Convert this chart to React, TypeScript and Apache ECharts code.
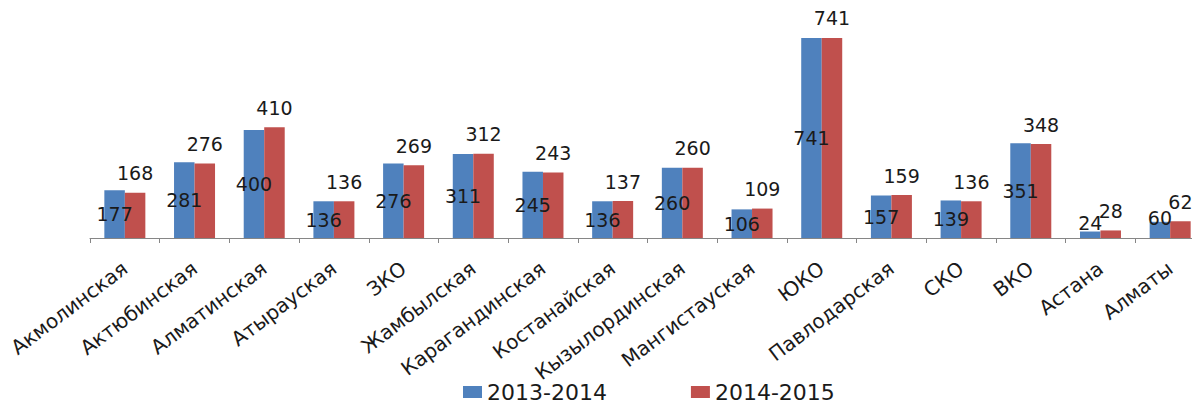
import React, { useEffect, useRef } from "react";
import * as echarts from "echarts";

const categories = [
  "Акмолинская",
  "Актюбинская",
  "Алматинская",
  "Атырауская",
  "ЗКО",
  "Жамбылская",
  "Карагандинская",
  "Костанайская",
  "Кызылординская",
  "Мангистауская",
  "ЮКО",
  "Павлодарская",
  "СКО",
  "ВКО",
  "Астана",
  "Алматы",
];
const values2013 = [177, 281, 400, 136, 276, 311, 245, 136, 260, 106, 741, 157, 139, 351, 24, 60];
const values2014 = [168, 276, 410, 136, 269, 312, 243, 137, 260, 109, 741, 159, 136, 348, 28, 62];
const seriesNames = ["2013-2014", "2014-2015"];

const FONT = "DejaVu Sans";

export default function App() {
  const ref = useRef<HTMLDivElement>(null);
  useEffect(() => {
    if (!ref.current) return;
    const chart = echarts.init(ref.current, undefined, { renderer: "svg" });
    chart.setOption({
      animation: false,
      backgroundColor: "#ffffff",
      textStyle: { fontFamily: FONT },
      legend: {
        data: seriesNames,
        left: 463,
        top: 381,
        padding: 0,
        itemWidth: 19,
        itemHeight: 12,
        itemGap: 84,
        icon: "rect",
        textStyle: { fontFamily: FONT, fontSize: 22, color: "#1a1a1a" },
      },
      grid: { left: 90, top: 22, bottom: 170, right: 10, containLabel: false },
      xAxis: {
        type: "category",
        data: categories,
        axisLine: { lineStyle: { color: "#868686", width: 1 } },
        axisTick: { show: true, length: 5, lineStyle: { color: "#868686" } },
        axisLabel: {
          interval: 0,
          rotate: 37,
          margin: 28,
          fontFamily: FONT,
          fontSize: 20,
          color: "#1a1a1a",
        },
      },
      yAxis: {
        type: "value",
        min: 0,
        max: 800,
        show: false,
        splitLine: { show: false },
      },
      series: [
        {
          name: seriesNames[0],
          type: "bar",
          barWidth: 20.5,
          barGap: "0%",
          itemStyle: { color: "#4F81BD" },
          data: values2013.map((v) =>
            v < 70 ? { value: v, label: { offset: [0, -12] } } : v
          ),
          label: {
            show: true,
            position: "inside",
            fontFamily: FONT,
            fontSize: 19,
            color: "#1a1a1a",
          },
        },
        {
          name: seriesNames[1],
          type: "bar",
          barWidth: 20.5,
          barGap: "0%",
          itemStyle: { color: "#C0504D" },
          data: values2014,
          label: {
            show: true,
            position: "top",
            distance: 10,
            fontFamily: FONT,
            fontSize: 19,
            color: "#1a1a1a",
          },
        },
      ],
    });
    return () => chart.dispose();
  }, []);
  return (
    <div
      style={{
        position: "fixed",
        left: 0,
        top: 0,
        width: 1192,
        height: 408,
        overflow: "hidden",
        background: "#fff",
      }}
    >
      <div ref={ref} style={{ width: 1215, height: 408 }} />
    </div>
  );
}
